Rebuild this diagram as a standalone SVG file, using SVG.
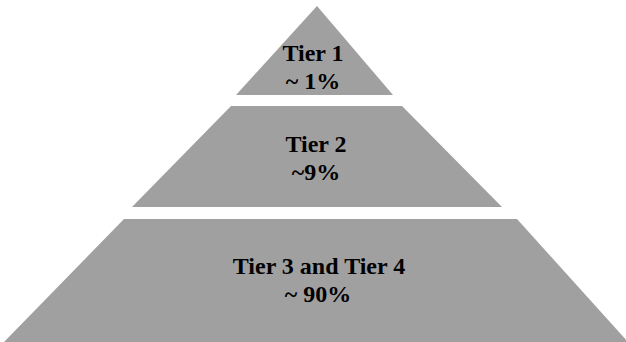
<svg xmlns="http://www.w3.org/2000/svg" width="626" height="342" viewBox="0 0 626 342">
  <style>
    .tier { fill: #a0a0a0; stroke: none; }
    .label { font-family: "Liberation Serif", "Times New Roman", serif; font-weight: bold; font-size: 24px; fill: #000; text-anchor: middle; }
  </style>
  <rect width="626" height="342" fill="#ffffff"/>
  <g id="tier1">
    <polygon class="tier" points="317,6 236,95 393,95"/>
    <text class="label" x="313" y="61">Tier 1</text>
    <text class="label" x="313" y="89">~ 1%</text>
  </g>
  <g id="tier2">
    <polygon class="tier" points="231,106 402,106 502,207 132,207"/>
    <text class="label" x="316" y="152">Tier 2</text>
    <text class="label" x="316" y="180">~9%</text>
  </g>
  <g id="tier3">
    <polygon class="tier" points="124,219 517,219 628,342 4,342"/>
    <text class="label" x="319" y="274">Tier 3 and Tier 4</text>
    <text class="label" x="318" y="302">~ 90%</text>
  </g>
  <g id="connectors"/>
</svg>
